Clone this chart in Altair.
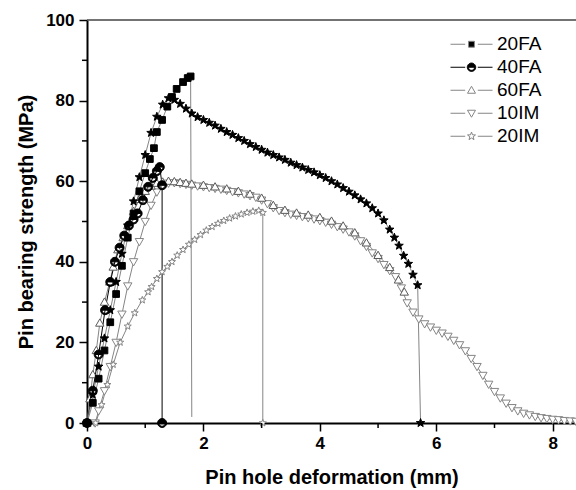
import altair as alt
import pandas as pd
import numpy as np

# ---------------- data ----------------
x_20FA = [0, 0.1, 0.2, 0.3, 0.4, 0.5, 0.6, 0.7, 0.8, 0.9, 1.0, 1.08, 1.15, 1.2, 1.29, 1.38, 1.46, 1.54, 1.65, 1.73, 1.78, 1.8]
y_20FA = [0, 5, 11, 18, 25, 32, 39, 46, 52, 57.5, 62, 65.5, 68.2, 72.2, 75.2, 78.5, 80.9, 82.9, 84.6, 85.6, 86, 1.5]

x_40FA = [0, 0.1, 0.2, 0.31, 0.4, 0.48, 0.56, 0.64, 0.72, 0.8, 0.87, 0.96, 1.05, 1.13, 1.2, 1.25, 1.29, 1.29]
y_40FA = [0, 8, 17, 28, 35, 40, 43.5, 46.5, 49, 50.5, 52, 55.3, 58.6, 60.8, 62.5, 63.5, 59, 0]

x_60FA = [0, 0.05, 0.1, 0.16, 0.22, 0.3, 0.39, 0.45, 0.53, 0.62, 0.7, 0.8, 0.9, 1.0, 1.1, 1.2, 1.3, 1.4, 1.5,
          1.6, 1.7, 1.8, 2.0, 2.2, 2.4, 2.6, 2.8, 3.0, 3.2, 3.4, 3.6, 3.8, 4.0, 4.2, 4.4, 4.6, 4.8, 5.0, 5.2, 5.35, 5.45]
y_60FA = [0, 6, 12, 18, 24.8, 30, 35, 38.7, 43, 46, 49, 52.5, 55.5, 57.5, 58.8, 59.5, 59.8, 60, 59.9,
          59.7, 59.5, 59.3, 59, 58.6, 58.1, 57.5, 56.8, 55.8, 54, 52.8, 52.1, 51.6, 51, 50.1, 48.9, 47.2, 44.7, 41.6, 38.6, 35.5, 32.5]

x_10IM = [0.14, 0.2, 0.3, 0.4, 0.5, 0.6, 0.7, 0.8, 0.9, 1.0, 1.1, 1.2, 1.3, 1.4, 1.5, 1.6, 1.7, 1.8, 1.9, 2.0,
          2.1, 2.2, 2.3, 2.4, 2.5, 2.6, 2.7, 2.8, 2.9, 3.0, 3.1, 3.2, 3.3, 3.4, 3.5, 3.6, 3.7, 3.8, 3.9, 4.0,
          4.1, 4.2, 4.3, 4.4, 4.5, 4.6, 4.7, 4.8, 4.9, 5.0, 5.1, 5.2, 5.3, 5.4, 5.5, 5.6, 5.7, 5.8, 5.9, 6.0,
          6.1, 6.2, 6.3, 6.4, 6.5, 6.6, 6.7, 6.8, 6.9, 7.0, 7.1, 7.2, 7.3, 7.4, 7.5, 7.6, 7.7, 7.8, 7.9, 8.0,
          8.1, 8.2, 8.3, 8.4]
y_10IM = [0, 3, 8, 14, 20, 27, 34, 40, 45, 50, 54, 57.3, 59, 59.5, 59.6, 59.4, 59.2, 59, 58.8, 58.6,
          58.4, 58.2, 58, 57.7, 57.4, 57.1, 56.8, 56.4, 56, 55.3, 54.4, 53.4, 52.7, 52.2, 51.8, 51.5, 51.2, 50.9, 50.6, 50.2,
          49.8, 49.3, 48.7, 48.1, 47.4, 46.4, 45.2, 43.8, 42.2, 40.8, 39.3, 37.8, 36.3, 33.5, 29.8, 27.5, 25.8, 24.6, 23.8, 23,
          22.3, 21.5, 20.5, 19.4, 17.9, 16, 14, 11.8, 9.6, 7.8, 6.2, 4.9, 3.8, 3.0, 2.4, 2.0, 1.6, 1.3, 1.1, 0.9,
          0.8, 0.6, 0.5, 0.4]

x_20IM = [0.15, 0.25, 0.35, 0.45, 0.57, 0.7, 0.82, 0.95, 1.05, 1.11, 1.2, 1.29, 1.38, 1.46, 1.55, 1.65, 1.75, 1.85,
          1.95, 2.05, 2.15, 2.25, 2.35, 2.45, 2.55, 2.65, 2.75, 2.85, 2.95, 3.02, 3.02]
y_20IM = [0, 4.5, 9.5, 14.5, 20, 24, 27.3, 30.5, 32.5, 33.8, 35.8, 37.5, 38.8, 40, 41.6, 43, 44.3, 45.5,
          46.7, 47.8, 48.7, 49.5, 50.2, 50.8, 51.3, 51.8, 52.2, 52.5, 52.7, 52.2, 0]

# black-star curve (not listed in the legend)
x_star = [0, 0.1, 0.2, 0.3, 0.4, 0.5, 0.6, 0.7, 0.8, 0.9, 1.0, 1.1, 1.2, 1.3, 1.4, 1.5, 1.6, 1.7, 1.8, 1.9,
          2.0, 2.1, 2.2, 2.3, 2.4, 2.5, 2.6, 2.7, 2.8, 2.9, 3.0, 3.1, 3.2, 3.3, 3.4, 3.5, 3.6, 3.7, 3.8, 3.9,
          4.0, 4.1, 4.2, 4.3, 4.4, 4.5, 4.6, 4.7, 4.8, 4.9, 5.0, 5.1, 5.2, 5.28, 5.36, 5.44, 5.52, 5.6, 5.68, 5.73]
y_star = [0, 7, 14, 21, 28, 35, 42, 49, 55, 61, 66.5, 72, 76, 79, 80.6, 80.2, 79.2, 78, 76.8, 75.9,
          75.2, 74.5, 73.8, 73, 72.2, 71.5, 70.7, 70, 69.2, 68.5, 67.8, 67.1, 66.5, 65.9, 65.3, 64.6, 64, 63.4, 62.8, 62.2,
          61.5, 60.8, 60, 59.2, 58.3, 57.4, 56.5, 55.5, 54.5, 53.3, 52, 50.3, 48, 46, 44, 41.5, 39.5, 36.8, 34.2, 0]

legend_names = ["20FA", "40FA", "60FA", "10IM", "20IM"]
x_ticks = [0, 2, 4, 6, 8]
y_ticks = [0, 20, 40, 60, 80, 100]
x_minor = [1, 3, 5, 7]
y_minor = [10, 30, 50, 70, 90]

# ---------------- marker shapes ----------------
def poly_path(polys, s=1.0, dashes=False, dash_in=0.3):
    parts = []
    if dashes:
        parts.append(f"M-1,0L{-dash_in},0M{dash_in},0L1,0")
    for poly in polys:
        pts = [f"{px * s:.3f},{py * s:.3f}" for px, py in poly]
        parts.append("M" + "L".join(pts) + "Z")
    return "".join(parts)

SQUARE = [[(-1, -1), (1, -1), (1, 1), (-1, 1)]]
TRI_UP = [[(0, -1), (1, 0.75), (-1, 0.75)]]
TRI_DN = [[(0, 1), (1, -0.75), (-1, -0.75)]]
_star = []
for k in range(10):
    ang = np.deg2rad(-90 + 36 * k)
    r = 1.0 if k % 2 == 0 else 0.42
    _star.append((r * np.cos(ang), r * np.sin(ang)))
STAR = [_star]
_n = 28
_outer = [(np.cos(2 * np.pi * i / _n), np.sin(2 * np.pi * i / _n)) for i in range(_n)]
_inner = [(0.72 * np.cos(-2 * np.pi * i / _n), 0.72 * np.sin(-2 * np.pi * i / _n)) for i in range(_n)]
_half = [(0.72 * np.cos(np.pi + np.pi * i / 14), 0.72 * np.sin(np.pi + np.pi * i / 14)) for i in range(15)]
HALF = [_outer, _inner, _half]

GREY = "#858585"
DARK = "#5a5a5a"

series = [
    # name, xs, ys, shape, fill, stroke, size, line colour, marker on last point
    ("10IM", x_10IM, y_10IM, TRI_DN, "white", GREY, 70, GREY, True),
    ("60FA", x_60FA, y_60FA, TRI_UP, "white", DARK, 70, GREY, True),
    ("20IM", x_20IM, y_20IM, STAR, "white", GREY, 55, GREY, True),
    ("40FA", x_40FA, y_40FA, HALF, "black", "black", 80, "black", True),
    ("stars", x_star, y_star, STAR, "black", "black", 80, GREY, True),
    ("20FA", x_20FA, y_20FA, SQUARE, "black", "black", 45, GREY, False),
]

rows = []
for name, xs_, ys_, *_rest in series:
    n = len(xs_)
    for i, (a, b) in enumerate(zip(xs_, ys_)):
        rows.append({"series": name, "x": a, "y": b, "order": i, "last": i == n - 1})
df = pd.DataFrame(rows)

W, H = 489, 403
FONT = "Liberation Sans"

xscale = alt.Scale(domain=[0, 8.4], nice=False, zero=False)
yscale = alt.Scale(domain=[0, 100], nice=False)

xaxis = alt.Axis(values=x_ticks, title="Pin hole deformation (mm)", format="d",
                 titleFont=FONT, titleFontSize=20, titleFontWeight="bold", titleColor="black", titlePadding=16,
                 labelFont=FONT, labelFontSize=17, labelFontWeight="bold", labelColor="black", labelPadding=4,
                 labelFlush=False, tickSize=8, tickWidth=1.5, tickColor="black",
                 domainColor="black", domainWidth=2, grid=False)
yaxis = alt.Axis(values=y_ticks, title="Pin bearing strength (MPa)", format="d",
                 titleFont=FONT, titleFontSize=20, titleFontWeight="bold", titleColor="black", titlePadding=9,
                 labelFont=FONT, labelFontSize=17, labelFontWeight="bold", labelColor="black", labelPadding=5,
                 labelFlush=False, tickSize=8, tickWidth=1.5, tickColor="black",
                 domainColor="black", domainWidth=2, grid=False)

base = alt.Chart(df)
X = alt.X("x:Q", scale=xscale, axis=xaxis)
Y = alt.Y("y:Q", scale=yscale, axis=yaxis)

layers = []
for name, xs_, ys_, shp, fill, stroke, size, lcol, mark_last in series:
    layers.append(
        base.transform_filter(alt.datum.series == name)
        .mark_line(strokeWidth=1, color=lcol)
        .encode(x=X, y=Y, order="order:Q")
    )
for name, xs_, ys_, shp, fill, stroke, size, lcol, mark_last in series:
    flt = alt.datum.series == name
    if not mark_last:
        flt = flt & (alt.datum.last == False)
    layers.append(
        base.transform_filter(flt)
        .mark_point(opacity=1, fillOpacity=1, strokeWidth=1)
        .encode(x=X, y=Y,
                shape=alt.value(poly_path(shp)),
                fill=alt.value(fill), stroke=alt.value(stroke), size=alt.value(size))
    )

# minor ticks
layers.append(
    alt.Chart(pd.DataFrame({"v": y_minor})).mark_rule(color="black", strokeWidth=1.5)
    .encode(y=alt.Y("v:Q", scale=yscale, axis=yaxis), x=alt.value(-5), x2=alt.value(0))
)
layers.append(
    alt.Chart(pd.DataFrame({"v": x_minor})).mark_rule(color="black", strokeWidth=1.5)
    .encode(x=alt.X("v:Q", scale=xscale, axis=xaxis), y=alt.value(H), y2=alt.value(H + 5))
)
# top frame line
layers.append(
    alt.Chart(pd.DataFrame({"v": [0]})).mark_rule(color="#444444", strokeWidth=1.5)
    .encode(x=alt.value(0), x2=alt.value(W), y=alt.value(0))
)

# legend layer (invisible marks, legend symbols with line segments)
leg_shapes = {
    "20FA": poly_path(SQUARE, 0.14, True),
    "40FA": poly_path(HALF, 0.2, True),
    "60FA": poly_path(TRI_UP, 0.19, True),
    "10IM": poly_path(TRI_DN, 0.19, True),
    "20IM": poly_path(STAR, 0.2, True),
}
leg = alt.Legend(orient="none", legendX=363, legendY=13, title=None, padding=0,
                 symbolSize=1764, symbolStrokeWidth=1, symbolOpacity=1,
                 labelFont=FONT, labelFontSize=19, labelColor="black", labelOffset=4,
                 clipHeight=22.5, rowPadding=0)
legend_df = pd.DataFrame({"series": legend_names, "x": [0] * 5, "y": [0] * 5})
layers.append(
    alt.Chart(legend_df).mark_point(opacity=0)
    .encode(
        shape=alt.Shape("series:N", scale=alt.Scale(domain=legend_names, range=[leg_shapes[n] for n in legend_names]), legend=leg),
        fill=alt.Fill("series:N", scale=alt.Scale(domain=legend_names, range=["black", "black", "white", "white", "white"]), legend=leg),
        stroke=alt.Stroke("series:N", scale=alt.Scale(domain=legend_names, range=[GREY, "black", GREY, GREY, GREY]), legend=leg),
    )
)

chart = (
    alt.layer(*layers)
    .properties(width=W, height=H, autosize=alt.AutoSizeParams(type="none"),
                padding={"left": 87, "top": 20, "right": 0, "bottom": 67}, background="white")
    .configure_view(stroke=None)
)

chart.save("out.html", embed_options={"renderer": "svg", "actions": False})
